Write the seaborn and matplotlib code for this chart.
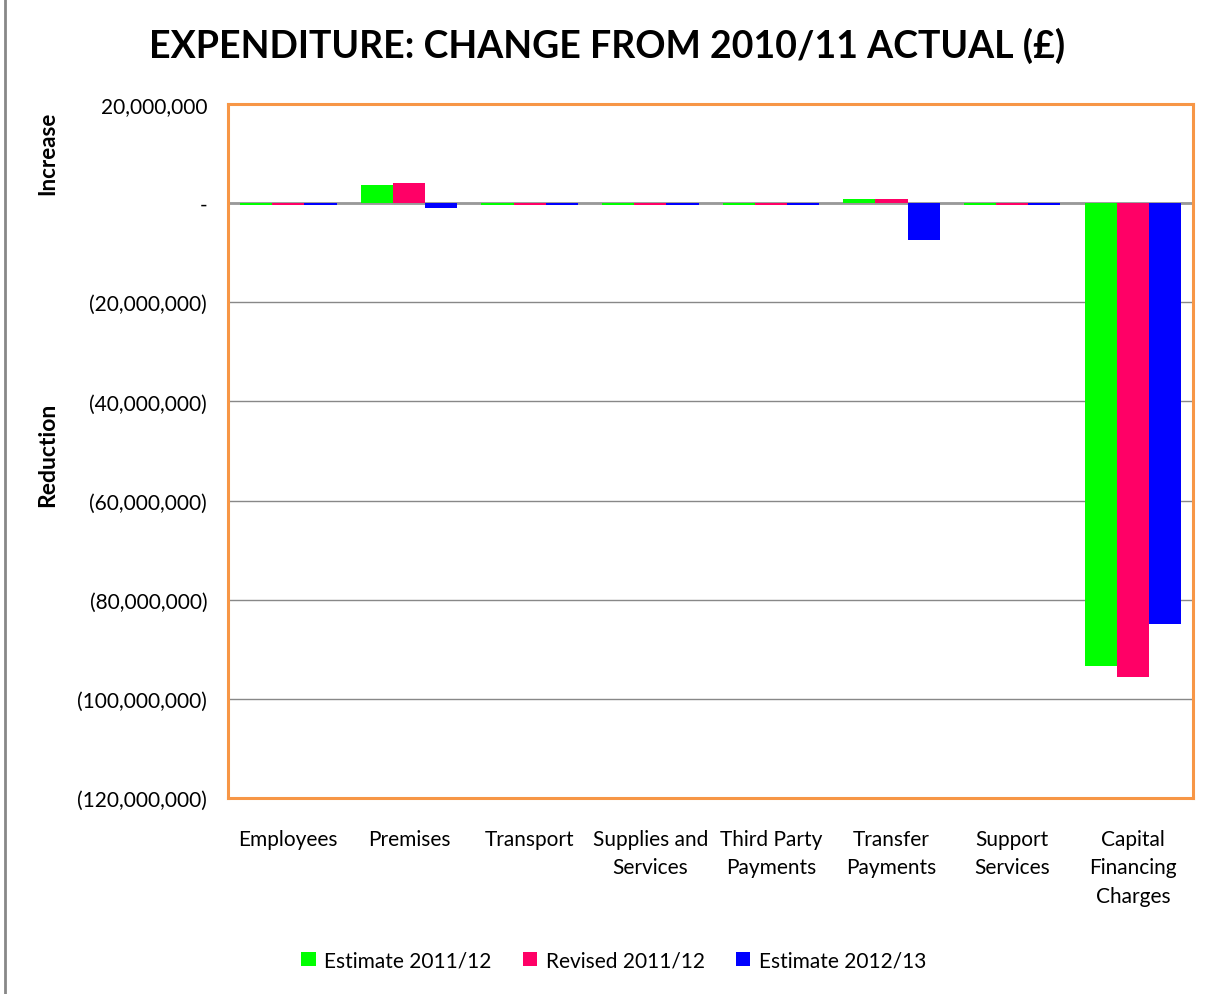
import numpy as np
import pandas as pd
import matplotlib.pyplot as plt
import seaborn as sns
from matplotlib.ticker import FuncFormatter
from matplotlib.patches import Rectangle

categories = ["Employees", "Premises", "Transport", "Supplies and\nServices",
              "Third Party\nPayments", "Transfer\nPayments", "Support\nServices",
              "Capital\nFinancing\nCharges"]
series = ["Estimate 2011/12", "Revised 2011/12", "Estimate 2012/13"]
estimate_2011 = [-400000, 3600000, -400000, -400000, -400000, 900000, -400000, -93400000]
revised_2011 = [-400000, 4000000, -400000, -400000, -400000, 900000, -400000, -95600000]
estimate_2012 = [-400000, -900000, -400000, -400000, -400000, -7400000, -400000, -84900000]
colors = ["#00FF00", "#FF0066", "#0000FF"]

df = pd.DataFrame({
    "category": categories * 3,
    "series": np.repeat(series, len(categories)),
    "value": estimate_2011 + revised_2011 + estimate_2012,
})

sns.set_style("white")
plt.rcParams["font.family"] = ["Lato", "DejaVu Sans"]
plt.rcParams["text.color"] = "black"

fig = plt.figure(figsize=(12.15, 9.95), dpi=100)
ax = fig.add_axes([0.1877, 0.197, 0.7943, 0.6975])

sns.barplot(data=df, x="category", y="value", hue="series", order=categories,
            hue_order=series, palette=colors, width=0.8, saturation=1,
            edgecolor="none", ax=ax, zorder=3)

ax.set_ylim(-120000000, 20000000)
ax.set_yticks(np.arange(-120000000, 20000001, 20000000))


def fmt(v, pos):
    if v == 0:
        return "-"
    if v < 0:
        return "({:,.0f})".format(-v)
    return "{:,.0f}".format(v)


ax.yaxis.set_major_formatter(FuncFormatter(fmt))
ax.grid(axis="y", color="#888888", linewidth=1, zorder=0)
ax.axhline(0, color="#999999", linewidth=2, zorder=2)
for s in ax.spines.values():
    s.set_color("#F79646")
    s.set_linewidth(2.2)
ax.tick_params(axis="both", length=0, labelsize=15, colors="black")
ax.tick_params(axis="y", pad=15)
ax.tick_params(axis="x", pad=22)
ax.set_xlabel("")
ax.set_ylabel("")
for lab in ax.get_xticklabels():
    lab.set_linespacing(1.55)

fig.suptitle("EXPENDITURE: CHANGE FROM 2010/11 ACTUAL (£)", x=0.5, y=0.972,
             fontsize=27, fontweight="bold", color="black")
fig.text(0.039, 0.846, "Increase", rotation=90, ha="center", va="center",
         fontsize=16, fontweight="bold")
fig.text(0.039, 0.543, "Reduction", rotation=90, ha="center", va="center",
         fontsize=16.5, fontweight="bold")

handles, labels = ax.get_legend_handles_labels()
ax.legend(handles, labels, loc="center", bbox_to_anchor=(0.505, 0.034),
          bbox_transform=fig.transFigure, ncol=3, frameon=False, fontsize=15,
          handlelength=0.7, handleheight=0.7, handletextpad=0.4, columnspacing=1.5)

fig.patches.append(Rectangle((0.004, -0.01), 1.1, 1.1, transform=fig.transFigure,
                             fill=False, edgecolor="#888888", linewidth=2))

fig.savefig("out.png", dpi=100)
